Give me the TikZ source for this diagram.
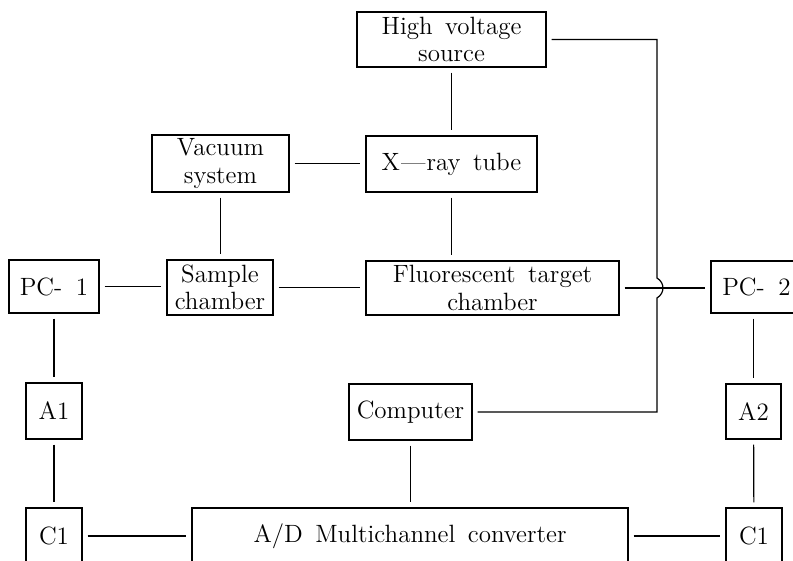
\documentclass[tikz,border=0pt]{standalone}
\usetikzlibrary{calc}
\newcommand\diafont{\fontsize{12.5}{13.8}\selectfont\spaceskip=0.5em plus 0.1em\relax}
\tikzset{
  box/.style={draw, line width=0.6pt, inner sep=0pt, align=center, font=\diafont},
  link/.style={line width=0.6pt, shorten <=2.5pt, shorten >=2.5pt},
}
\begin{document}
\begin{tikzpicture}[x=0.5pt,y=-0.5pt]
\useasboundingbox (0,0) rectangle (793,561);
\fill[white] (0,0) rectangle (793,561);
\clip (0,0) rectangle (793,561);

\node[box, minimum width=94.5pt, minimum height=27.5pt] (hv) at (451.5,39.5) {High voltage\\source};
\node[box, minimum width=68.5pt, minimum height=28.5pt] (vac) at (220.5,163.5) {Vacuum\\system};
\node[box, minimum width=85.5pt, minimum height=28pt] (xray) at (451.5,164) {X\kern0.5pt---\kern0.5pt ray tube};
\node[box, minimum width=45pt, minimum height=26.5pt] (pc1) at (54,286.5) {PC-\hspace{0.55em}1};
\node[box, minimum width=53pt, minimum height=27.5pt] (samp) at (220,287.5) {Sample\\chamber};
\node[box, minimum width=126.5pt, minimum height=27pt] (fluor) at (492.5,288) {Fluorescent target\\chamber};
\node[box, minimum width=45.5pt, minimum height=26pt] (pc2) at (756.5,287) {PC-\hspace{0.55em}2};
\node[box, minimum width=28pt, minimum height=28pt] (a1) at (54,411) {A1};
\node[box, minimum width=61.5pt, minimum height=28pt] (comp) at (410.5,412) {Computer};
\node[box, minimum width=27.5pt, minimum height=27.5pt] (a2) at (753.5,411.5) {A2};
\node[box, minimum width=28pt, minimum height=28pt] (c1l) at (54,536) {C1};
\node[box, minimum width=218pt, minimum height=28pt] (ad) at (410,536) {A/D Multichannel converter};
\node[box, minimum width=28pt, minimum height=28pt] (c1r) at (754,536) {C1};

\coordinate (rail) at (657,0);
\coordinate (hopT) at (657,278);
\coordinate (hopB) at (657,298);

\draw[link] (hv) -- (xray);
\draw[link] (vac.east) -- (vac.east -| xray.west);
\draw[link] (vac.south) -- (vac.south |- samp.north);
\draw[link] (xray.south) -- (xray.south |- fluor.north);
\draw[link] (pc1.east) -- (pc1.east -| samp.west);
\draw[link] (samp.east) -- (samp.east -| fluor.west);
\draw[link] (fluor.east) -- (fluor.east -| pc2.west);
\draw[link] (pc1.south) -- (pc1.south |- a1.north);
\draw[link] (a1) -- (c1l);
\draw[link] (c1l) -- (ad);
\draw[link] (comp.south) -- (comp.south |- ad.north);
\draw[link] (ad.east) -- (ad.east -| c1r.west);
\draw[link] (a2.north |- pc2.south) -- (a2.north);
\draw[link] (a2) -- (c1r);
\draw[link] (hv.east) -- (hv.east -| rail) -- (hopT) .. controls +(8,5) and +(8,-5) .. (hopB) -- (comp.east -| rail) -- (comp.east);
\end{tikzpicture}
\end{document}
